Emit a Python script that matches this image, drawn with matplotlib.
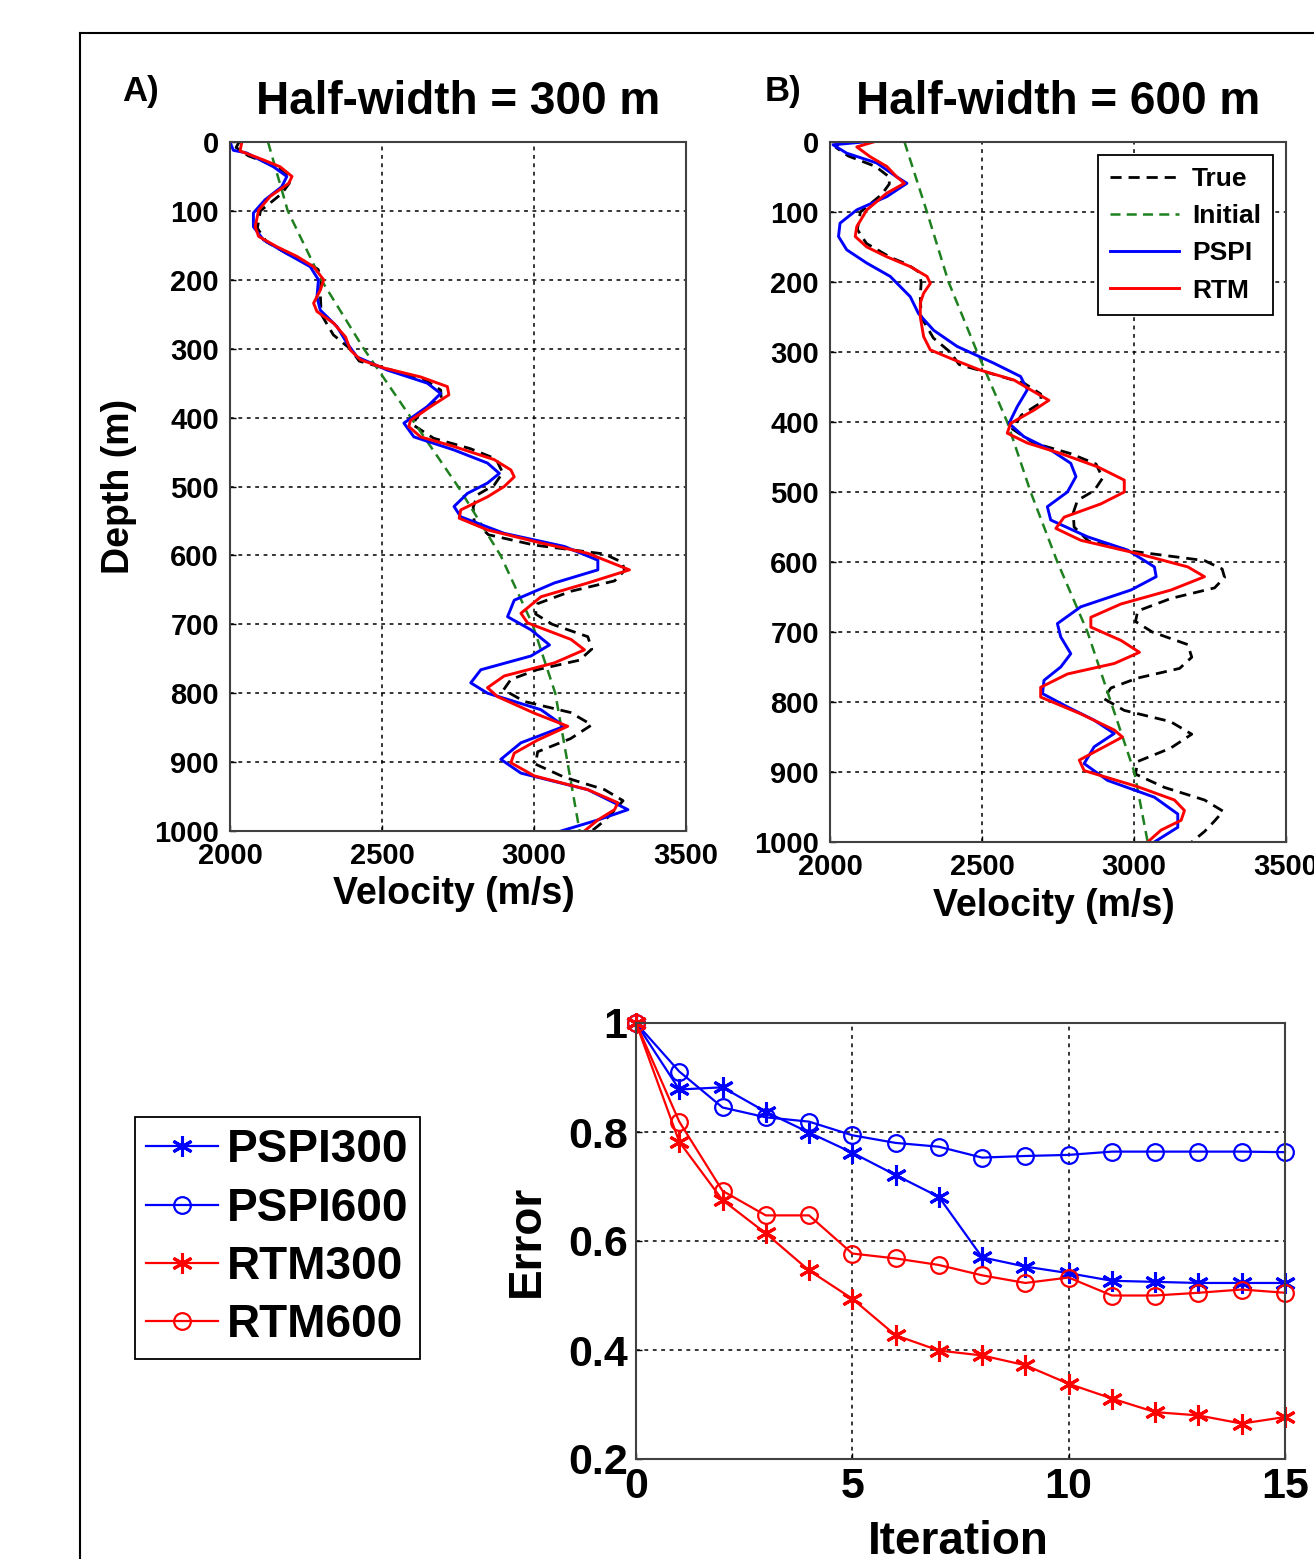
import matplotlib
matplotlib.use("Agg")
import matplotlib.pyplot as plt
from matplotlib.lines import Line2D

plt.rcParams["font.family"] = ["Liberation Sans", "DejaVu Sans"]
plt.rcParams["font.weight"] = "bold"

# True model (same in both panels)
true_depth = [0, 8, 20, 35, 50, 60, 75, 100, 125, 145, 165, 175, 185, 200, 220, 250,
              280, 300, 318, 332, 345, 360, 372, 390, 410, 430, 445, 460, 480, 498,
              512, 530, 550, 570, 585, 598, 610, 622, 637, 652, 670, 685, 700, 718,
              736, 752, 766, 780, 795, 812, 828, 846, 866, 885, 903, 922, 940, 956,
              970, 985, 1000]
true_vel = [2030, 2020, 2060, 2150, 2195, 2195, 2170, 2100, 2090, 2120, 2200, 2255,
            2290, 2300, 2297, 2300, 2340, 2395, 2425, 2540, 2640, 2693, 2695, 2630,
            2600, 2670, 2790, 2875, 2897, 2869, 2814, 2800, 2803, 2850, 3001, 3232,
            3290, 3298, 3265, 3122, 3012, 3005, 3060, 3177, 3190, 3150, 3010, 2924,
            2900, 2968, 3120, 3190, 3120, 3012, 3005, 3100, 3232, 3293, 3265, 3232,
            3190]

init_depth = [0, 100, 200, 300, 400, 500, 600, 700, 800, 900, 1000]
init300 = [2125, 2190, 2300, 2440, 2595, 2750, 2890, 2995, 3070, 3110, 3150]
init600 = [2245, 2319, 2390, 2484, 2583, 2660, 2748, 2847, 2924, 3001, 3045]

# Half-width 300 m
pspi300_depth = [0, 12, 16, 36, 50, 65, 84, 103, 123, 142, 162, 181, 200, 225, 244,
                 268, 292, 312, 331, 350, 365, 384, 408, 428, 447, 466, 481, 495,
                 510, 529, 544, 568, 587, 607, 621, 640, 665, 689, 708, 730, 746,
                 766, 785, 800, 824, 848, 872, 896, 916, 940, 969, 984, 1000]
pspi300_vel = [2000, 2011, 2055, 2143, 2187, 2170, 2115, 2077, 2077, 2110, 2187, 2264,
               2291, 2286, 2297, 2352, 2385, 2418, 2517, 2649, 2693, 2649, 2572, 2605,
               2737, 2847, 2886, 2847, 2781, 2737, 2759, 2902, 3100, 3210, 3210, 3067,
               2935, 2913, 2990, 3051, 2990, 2825, 2792, 2847, 3023, 3100, 2957, 2891,
               2957, 3177, 3309, 3210, 3089]
rtm300_depth = [0, 13, 26, 36, 50, 60, 79, 99, 123, 137, 152, 166, 181, 200, 215, 234,
                246, 263, 283, 302, 316, 328, 341, 355, 367, 384, 404, 413, 428, 442,
                461, 476, 486, 500, 515, 534, 546, 563, 582, 597, 621, 640, 660, 684,
                698, 722, 737, 756, 775, 792, 805, 829, 848, 868, 887, 901, 920, 940,
                959, 969, 984, 1000]
rtm300_vel = [2039, 2033, 2110, 2165, 2204, 2193, 2132, 2094, 2083, 2094, 2154, 2220,
              2275, 2308, 2297, 2275, 2286, 2341, 2380, 2396, 2429, 2506, 2627, 2715,
              2720, 2660, 2594, 2588, 2627, 2737, 2869, 2924, 2935, 2902, 2847, 2759,
              2754, 2847, 3023, 3177, 3314, 3177, 3023, 2957, 2979, 3122, 3166, 3067,
              2902, 2847, 2880, 3001, 3111, 3012, 2935, 2924, 3001, 3177, 3276, 3265,
              3210, 3166]

# Half-width 600 m
pspi600_depth = [0, 4, 16, 30, 50, 59, 78, 97, 116, 135, 154, 173, 192, 221, 245, 269,
                 292, 316, 335, 354, 378, 402, 421, 440, 459, 478, 500, 521, 540, 564,
                 583, 607, 621, 640, 664, 688, 707, 731, 750, 769, 788, 807, 826, 845,
                 864, 888, 912, 936, 960, 979, 1000]
pspi600_vel = [2110, 2010, 2055, 2154, 2220, 2253, 2187, 2088, 2033, 2028, 2055, 2121,
               2198, 2264, 2291, 2341, 2418, 2539, 2627, 2649, 2616, 2589, 2638, 2726,
               2792, 2809, 2781, 2715, 2726, 2847, 2979, 3067, 3073, 2990, 2825, 2748,
               2759, 2792, 2759, 2704, 2699, 2781, 2869, 2935, 2869, 2836, 2913, 3067,
               3144, 3144, 3067]
rtm600_depth = [0, 7, 21, 35, 50, 59, 73, 97, 121, 135, 150, 164, 178, 192, 202, 216,
                230, 250, 278, 297, 311, 326, 340, 354, 369, 383, 402, 416, 430, 445,
                464, 483, 500, 517, 536, 552, 569, 588, 607, 621, 640, 660, 679, 693,
                712, 729, 745, 760, 779, 793, 817, 840, 850, 864, 883, 898, 921, 940,
                955, 969, 983, 1000]
rtm600_vel = [2143, 2088, 2132, 2187, 2220, 2245, 2187, 2121, 2088, 2083, 2121, 2187,
              2264, 2319, 2330, 2308, 2297, 2297, 2308, 2330, 2407, 2495, 2605, 2660,
              2720, 2671, 2594, 2583, 2649, 2759, 2880, 2968, 2968, 2891, 2770, 2743,
              2825, 3012, 3177, 3232, 3122, 2957, 2858, 2858, 2957, 3018, 2935, 2781,
              2693, 2693, 2825, 2935, 2962, 2902, 2820, 2836, 3012, 3133, 3166, 3155,
              3089, 3045]

# Error curves
iteration = list(range(16))
err_pspi300 = [1.0, 0.878, 0.882, 0.837, 0.799, 0.762, 0.721, 0.681, 0.570, 0.553,
               0.541, 0.527, 0.525, 0.523, 0.523, 0.523]
err_pspi600 = [1.0, 0.911, 0.845, 0.827, 0.819, 0.794, 0.780, 0.773, 0.753, 0.756,
               0.758, 0.764, 0.764, 0.764, 0.764, 0.763]
err_rtm300 = [1.0, 0.782, 0.675, 0.614, 0.546, 0.494, 0.427, 0.399, 0.390, 0.372,
              0.338, 0.311, 0.286, 0.280, 0.265, 0.277]
err_rtm600 = [1.0, 0.819, 0.692, 0.647, 0.647, 0.577, 0.568, 0.556, 0.537, 0.523,
              0.533, 0.500, 0.500, 0.505, 0.511, 0.505]

W, H = 1314, 1559
fig = plt.figure(figsize=(W / 100, H / 100), dpi=100)


def box(l, t, r, b):
    return [l / W, 1 - b / H, (r - l) / W, (b - t) / H]


grid_kw = dict(color="black", linestyle=(0, (2.5, 3)), linewidth=1.1)


def style(ax, size):
    for s in ax.spines.values():
        s.set_color("#404040")
        s.set_linewidth(1.5)
    ax.tick_params(direction="in", length=4, labelsize=size, width=1, pad=8)
    ax.grid(True, **grid_kw)
    for lab in ax.get_xticklabels() + ax.get_yticklabels():
        lab.set_fontweight("bold")


green = "#1f801f"
panels = [
    (box(230, 142, 686, 831), "Half-width = 300 m", init300, pspi300_depth, pspi300_vel,
     rtm300_depth, rtm300_vel),
    (box(830, 142, 1286, 842), "Half-width = 600 m", init600, pspi600_depth, pspi600_vel,
     rtm600_depth, rtm600_vel),
]
axes = []
for rect, title, init, pd, pv, rd, rv in panels:
    ax = fig.add_axes(rect)
    ax.plot(true_vel, true_depth, color="black", linestyle=(0, (4, 2.5)), lw=2.0, label="True")
    ax.plot(init, init_depth, color=green, linestyle=(0, (4, 2.5)), lw=1.8, label="Initial")
    ax.plot(pv, pd, color="blue", lw=2.1, label="PSPI")
    ax.plot(rv, rd, color="red", lw=2.1, label="RTM")
    ax.set_xlim(2000, 3500)
    ax.set_ylim(1000, 0)
    ax.set_xticks([2000, 2500, 3000, 3500])
    ax.set_yticks(range(0, 1001, 100))
    style(ax, 21)
    ax.set_title(title, fontsize=33, fontweight="bold", pad=20)
    ax.set_xlabel("Velocity (m/s)", fontsize=27, fontweight="bold")
    ax.xaxis.set_label_coords(0.49, -0.065)
    axes.append(ax)

axes[0].set_ylabel("Depth (m)", fontsize=27, fontweight="bold")
axes[0].yaxis.set_label_coords(-0.205, 0.5)

axes[1].legend(loc="upper right", frameon=True, fancybox=False,
               edgecolor="black", framealpha=1, handlelength=2.6, labelspacing=0.5,
               borderaxespad=0.5, handletextpad=0.5, borderpad=0.45,
               prop=dict(weight="bold", size=19)).get_frame().set_linewidth(1.3)

fig.text(122 / W, 1 - 75 / H, "A)", fontsize=25, fontweight="bold", va="top")
fig.text(765 / W, 1 - 75 / H, "B)", fontsize=25, fontweight="bold", va="top")

# Error vs iteration
star = (6, 2, 0)
ax3 = fig.add_axes(box(636, 1023, 1285, 1459))
lines = []
lines += ax3.plot(iteration, err_pspi300, color="blue", marker=star, ms=15, mew=2.2,
                  lw=1.6, label="PSPI300", clip_on=False)
lines += ax3.plot(iteration, err_pspi600, color="blue", marker="o", ms=12, mfc="none",
                  mew=1.6, lw=1.6, label="PSPI600", clip_on=False)
lines += ax3.plot(iteration, err_rtm300, color="red", marker=star, ms=15, mew=2.2,
                  lw=1.6, label="RTM300", clip_on=False)
lines += ax3.plot(iteration, err_rtm600, color="red", marker="o", ms=12, mfc="none",
                  mew=1.6, lw=1.6, label="RTM600", clip_on=False)
ax3.set_xlim(0, 15)
ax3.set_ylim(0.2, 1.0)
ax3.set_xticks([0, 5, 10, 15])
ax3.set_yticks([0.2, 0.4, 0.6, 0.8, 1.0])
ax3.set_yticklabels(["0.2", "0.4", "0.6", "0.8", "1"])
style(ax3, 31)
ax3.tick_params(pad=6)
ax3.set_xlabel("Iteration", fontsize=33, fontweight="bold")
ax3.xaxis.set_label_coords(0.496, -0.14)
ax3.set_ylabel("Error", fontsize=33, fontweight="bold")
ax3.yaxis.set_label_coords(-0.135, 0.5)

leg = fig.legend(handles=lines, loc="upper left", bbox_to_anchor=(135 / W, 1 - 1117 / H),
                 borderaxespad=0, frameon=True, fancybox=False, edgecolor="black",
                 framealpha=1, handlelength=1.55, labelspacing=0.31, handletextpad=0.2,
                 borderpad=0.25, prop=dict(weight="bold", size=33))
leg.get_frame().set_linewidth(1.3)

# outer frame
fig.add_artist(Line2D([80 / W, 1], [1 - 33 / H, 1 - 33 / H], color="black", lw=1.5))
fig.add_artist(Line2D([80 / W, 80 / W], [0, 1 - 33 / H], color="black", lw=1.5))

fig.savefig("out.png", dpi=100)
